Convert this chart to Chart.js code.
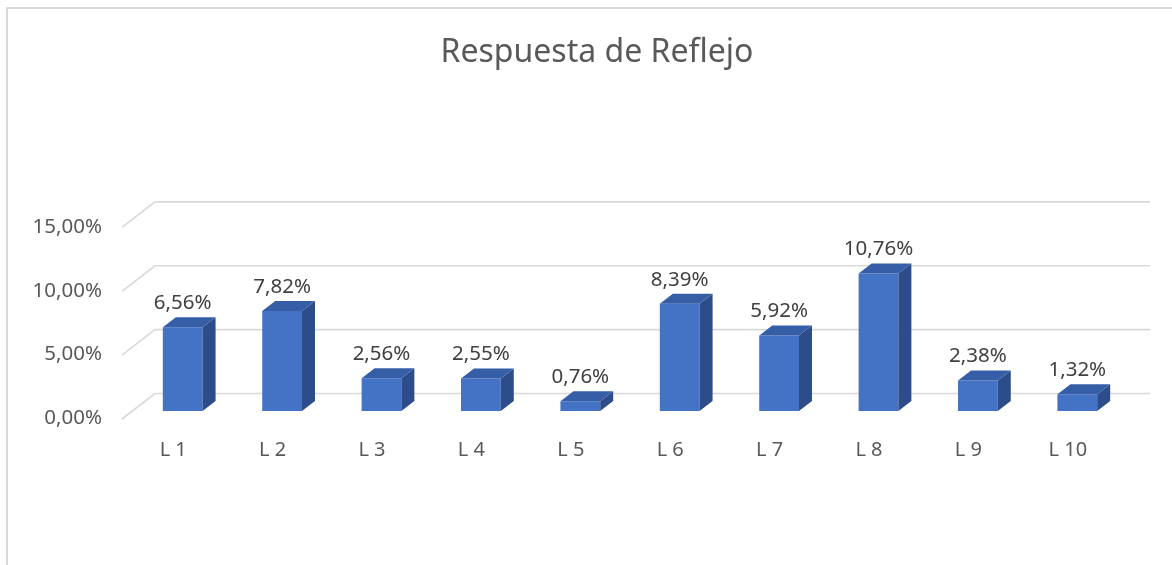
<!DOCTYPE html>
<html>
<head>
<meta charset="utf-8">
<script src="https://cdn.jsdelivr.net/npm/chart.js@4.4.1/dist/chart.umd.min.js"></script>
<style>
html, body { margin: 0; padding: 0; background: #fff; }
#wrap { width: 1172px; height: 565px; position: relative; overflow: hidden; }
</style>
</head>
<body>
<div id="wrap"><canvas id="reflejoChart" width="1172" height="565"></canvas></div>
<script>
const categories = ['L 1', 'L 2', 'L 3', 'L 4', 'L 5', 'L 6', 'L 7', 'L 8', 'L 9', 'L 10'];
const respuesta = [6.56, 7.82, 2.56, 2.55, 0.76, 8.39, 5.92, 10.76, 2.38, 1.32];
const yTicks = [0, 5, 10, 15];

const FONT = '"Noto Sans", "Liberation Sans", sans-serif';

function pct(v) {
    return v.toFixed(2).replace('.', ',') + '%';
}

// fake 3D: bar depth, back wall and floor slant
const threeD = {
    id: 'threeD',
    beforeDraw(chart) {
        const ctx = chart.ctx;
        ctx.save();
        ctx.strokeStyle = '#d9d9d9';
        ctx.lineWidth = 2;
        ctx.strokeRect(7, 8, 1200, 600);
        ctx.restore();
    },
    beforeDatasetsDraw(chart) {
        const { ctx, chartArea, scales: { y } } = chart;
        ctx.save();
        ctx.strokeStyle = '#d9d9d9';
        ctx.lineWidth = 1.6;
        y.ticks.forEach(t => {
            const py = y.getPixelForValue(t.value);
            ctx.beginPath();
            ctx.moveTo(chartArea.left - 11, py + 8);
            ctx.lineTo(chartArea.left + 22, py - 17.5);
            ctx.lineTo(chartArea.right + 23, py - 17.5);
            ctx.stroke();
        });
        ctx.restore();
    },
    afterDatasetsDraw(chart) {
        const ctx = chart.ctx;
        const meta = chart.getDatasetMeta(0);
        const dx = 13, dy = 10;
        ctx.save();
        meta.data.forEach((bar, i) => {
            const left = bar.x - bar.width / 2;
            const right = bar.x + bar.width / 2;
            const top = bar.y;
            const base = bar.base;
            // side
            ctx.fillStyle = '#2c4d8a';
            ctx.beginPath();
            ctx.moveTo(right, top);
            ctx.lineTo(right + dx, top - dy);
            ctx.lineTo(right + dx, base - dy);
            ctx.lineTo(right, base);
            ctx.closePath();
            ctx.fill();
            // top
            ctx.fillStyle = '#365ea6';
            ctx.beginPath();
            ctx.moveTo(left, top);
            ctx.lineTo(left + dx, top - dy);
            ctx.lineTo(right + dx, top - dy);
            ctx.lineTo(right, top);
            ctx.closePath();
            ctx.fill();
            // value label
            ctx.fillStyle = '#404040';
            ctx.font = '20.5px ' + FONT;
            ctx.textAlign = 'center';
            ctx.textBaseline = 'middle';
            ctx.fillText(pct(respuesta[i]), bar.x, top - 24);
        });
        ctx.restore();
    }
};

const ctx = document.getElementById('reflejoChart').getContext('2d');

new Chart(ctx, {
    type: 'bar',
    data: {
        labels: categories,
        datasets: [{
            label: 'Respuesta de Reflejo',
            data: respuesta,
            backgroundColor: '#4472c4',
            borderWidth: 0,
            categoryPercentage: 1,
            barPercentage: 0.4
        }]
    },
    options: {
        responsive: false,
        animation: false,
        events: [],
        layout: {
            padding: { left: 22, right: 0, top: 0, bottom: 0 }
        },
        plugins: {
            legend: { display: false },
            tooltip: { enabled: false },
            title: {
                display: true,
                text: 'Respuesta de Reflejo',
                color: '#595959',
                font: { family: FONT, size: 32, weight: 'normal' },
                padding: { top: 34, bottom: 147 }
            }
        },
        scales: {
            x: {
                grid: { display: false, drawTicks: false, tickLength: 0 },
                border: { display: false },
                ticks: {
                    color: '#595959',
                    font: { family: FONT, size: 20 },
                    padding: 27.7,
                    labelOffset: -9.5,
                    maxRotation: 0
                },
                afterFit(scale) { scale.height = 154; }
            },
            y: {
                min: 0,
                max: 15,
                grid: { display: false, drawTicks: false, tickLength: 0 },
                border: { display: false },
                afterBuildTicks(scale) {
                    scale.ticks = yTicks.map(v => ({ value: v }));
                },
                ticks: {
                    color: '#595959',
                    font: { family: FONT, size: 20.5 },
                    padding: 31,
                    labelOffset: 7.5,
                    callback: function (value) {
                        return pct(value);
                    }
                },
                afterFit(scale) { scale.width = 111; }
            },
            yRight: {
                position: 'right',
                min: 0,
                max: 15,
                grid: { display: false, drawTicks: false, tickLength: 0 },
                border: { display: false },
                ticks: { display: false },
                afterFit(scale) { scale.width = 45; }
            }
        }
    },
    plugins: [threeD]
});
</script>
</body>
</html>
